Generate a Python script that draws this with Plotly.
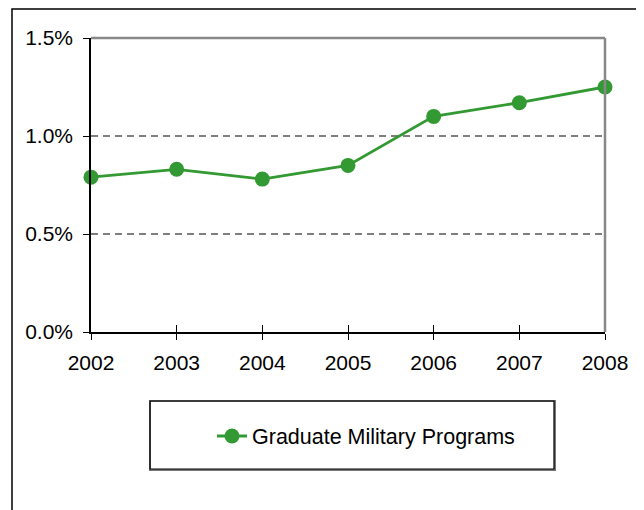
import plotly.graph_objects as go

years = [2002, 2003, 2004, 2005, 2006, 2007, 2008]
share = [0.0079, 0.0083, 0.0078, 0.0085, 0.0110, 0.0117, 0.0125]
series_name = "Graduate Military Programs"
y_ticks = [0.0, 0.005, 0.010, 0.015]
y_tick_text = ["0.0%", "0.5%", "1.0%", "1.5%"]

green = "#339933"
font = dict(family="Liberation Sans, Arial, sans-serif", size=21, color="black")

# page body has an 8px margin, so the margins are shifted back by 8px
L, T, W, H = 83, 30, 514, 294

fig = go.Figure()
fig.add_trace(go.Scatter(x=years, y=share, name=series_name, mode="lines+markers",
                         line=dict(color=green, width=2.8),
                         marker=dict(color=green, size=15),
                         cliponaxis=False))

# dashed gridlines at the inner ticks
for v in y_ticks[1:-1]:
    fig.add_shape(type="line", xref="paper", yref="y", x0=0, x1=1, y0=v, y1=v,
                  line=dict(color="#555555", width=1.3, dash="7px,5px"), layer="below")

# top and right gray frame
fig.add_shape(type="line", xref="paper", yref="paper", x0=0, x1=1, y0=1, y1=1,
              line=dict(color="#888888", width=2.5))
fig.add_shape(type="line", xref="paper", yref="paper", x0=1, x1=1, y0=0, y1=1,
              line=dict(color="#888888", width=2.5))

# outer chart border (bottom runs off the page)
fig.add_shape(type="rect", xref="paper", yref="paper", x0=(12 - 91) / W, x1=(641 - 91) / W,
              y0=-0.7, y1=1 + (38 - 9) / H, line=dict(color="black", width=1.5))

# legend box with gray shadow on right/bottom
fig.add_shape(type="rect", xref="paper", yref="paper", x0=(150 - 91) / W,
              x1=(555 - 91) / W, y0=(332 - 470) / H, y1=(332 - 401) / H,
              line=dict(color="#777777", width=2))
fig.add_shape(type="rect", xref="paper", yref="paper", x0=(150 - 91) / W,
              x1=(554 - 91) / W, y0=(332 - 469) / H, y1=(332 - 401) / H,
              line=dict(color="black", width=1.2))

fig.update_layout(
    width=644, height=510,
    margin=dict(l=L, r=644 - L - W, t=T, b=510 - T - H),
    paper_bgcolor="white", plot_bgcolor="white",
    font=font,
    showlegend=True,
    legend=dict(x=(212 - 91) / W, y=(332 - 436) / H, xanchor="left",
                yanchor="middle", bgcolor="rgba(0,0,0,0)", borderwidth=0,
                font=dict(family=font["family"], size=21.5, color="black")),
    xaxis=dict(range=[2002, 2008], tickvals=years, showgrid=False, zeroline=False,
               showline=True, linecolor="black", linewidth=1.5,
               ticks="outside", ticklen=6, tickcolor="black", tickwidth=1,
               ticklabelstandoff=5),
    xaxis2=dict(range=[2002, 2008], tickvals=years, overlaying="x", side="bottom",
                showgrid=False, zeroline=False, showline=False, ticks="inside",
                ticklen=7, tickcolor="black", tickwidth=1, showticklabels=False,
                anchor="y"),
    yaxis=dict(range=[0, 0.015], tickvals=y_ticks, ticktext=y_tick_text,
               showgrid=False, zeroline=False, showline=True, linecolor="black",
               linewidth=1.5, ticks="outside", ticklen=6, tickcolor="black",
               tickwidth=1, ticklabelstandoff=6),
)
# invisible trace to activate the inside ticks on xaxis2
fig.add_trace(go.Scatter(x=[years[0]], y=[share[0]], xaxis="x2", mode="markers",
                         marker=dict(opacity=0), showlegend=False, hoverinfo="skip"))

fig.write_html("out.html")
